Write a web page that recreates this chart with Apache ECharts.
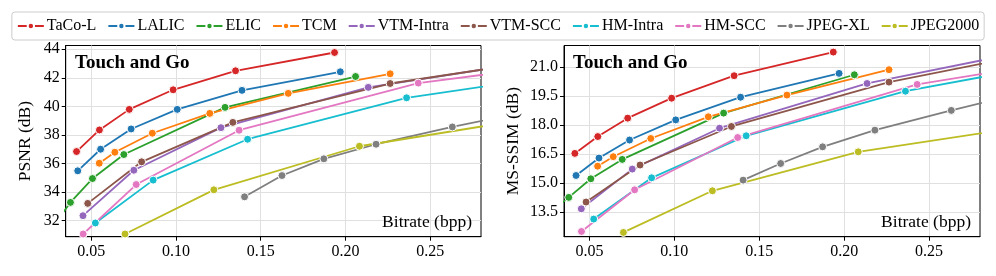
<!DOCTYPE html>
<html>
<head>
<meta charset="utf-8">
<script src="https://cdn.jsdelivr.net/npm/echarts@6/dist/echarts.min.js"></script>
<style>
html,body{margin:0;padding:0;background:#fff;}
#c{width:996px;height:276px;}
</style>
</head>
<body>
<div id="c"></div>
<script>
// ---- data (bpp, PSNR dB, MS-SSIM dB) ----
var names = ['TaCo-L','LALIC','ELIC','TCM','VTM-Intra','VTM-SCC','HM-Intra','HM-SCC','JPEG-XL','JPEG2000'];
var colors = ['#d62728','#1f77b4','#2ca02c','#ff7f0e','#9467bd','#8c564b','#17becf','#e377c2','#7f7f7f','#bcbd22'];

var tacoBpp   = [0.0414, 0.0549, 0.0725, 0.0984, 0.1352, 0.1936];
var tacoPsnr  = [36.84, 38.35, 39.79, 41.16, 42.49, 43.77];
var tacoMs    = [16.53, 17.40, 18.35, 19.38, 20.54, 21.76];

var lalicBpp  = [0.0421, 0.0556, 0.0736, 0.1008, 0.1390, 0.1970];
var lalicPsnr = [35.49, 37.00, 38.42, 39.79, 41.12, 42.42];
var lalicMs   = [15.39, 16.29, 17.22, 18.26, 19.43, 20.66];

var elicBpp   = [0.0300, 0.0378, 0.0508, 0.0693, 0.1290, 0.2060];
var elicPsnr  = [32.00, 33.28, 34.95, 36.63, 39.93, 42.09];
var elicMs    = [13.70, 14.26, 15.22, 16.22, 18.61, 20.59];

var tcmBpp    = [0.0548, 0.0640, 0.0861, 0.1200, 0.1663, 0.2264];
var tcmPsnr   = [36.02, 36.79, 38.12, 39.51, 40.91, 42.28];
var tcmMs     = [15.87, 16.36, 17.30, 18.42, 19.54, 20.85];

var vtmIBpp   = [0.0452, 0.0752, 0.1266, 0.2135, 0.3000];
var vtmIPsnr  = [32.35, 35.53, 38.51, 41.33, 42.93];
var vtmIMs    = [13.67, 15.72, 17.83, 20.14, 21.67];

var vtmSBpp   = [0.0480, 0.0798, 0.1336, 0.2264, 0.3000];
var vtmSPsnr  = [33.21, 36.12, 38.88, 41.60, 42.92];
var vtmSMs    = [14.02, 15.93, 17.92, 20.21, 21.49];

var hmIBpp    = [0.0525, 0.0866, 0.1423, 0.2361, 0.3000];
var hmIPsnr   = [31.84, 34.84, 37.70, 40.60, 41.70];
var hmIMs     = [13.14, 15.27, 17.44, 19.74, 20.78];

var hmSBpp    = [0.0453, 0.0766, 0.1373, 0.2430, 0.3000];
var hmSPsnr   = [31.07, 34.53, 38.33, 41.63, 42.50];
var hmSMs     = [12.50, 14.65, 17.35, 20.09, 20.91];

var jxlBpp    = [0.1405, 0.1626, 0.1873, 0.2181, 0.2631, 0.3000];
var jxlPsnr   = [33.67, 35.16, 36.33, 37.35, 38.56, 39.47];
var jxlMs     = [15.15, 16.01, 16.87, 17.73, 18.75, 19.55];

var j2kBpp    = [0.0700, 0.1224, 0.2083, 0.3000];
var j2kPsnr   = [31.07, 34.16, 37.21, 38.97];
var j2kMs     = [12.45, 14.60, 16.61, 17.83];

var xTicks     = [0.05, 0.10, 0.15, 0.20, 0.25];
var psnrTicks  = [32, 34, 36, 38, 40, 42, 44];
var msTicks    = [13.5, 15.0, 16.5, 18.0, 19.5, 21.0];

var bppList  = [tacoBpp, lalicBpp, elicBpp, tcmBpp, vtmIBpp, vtmSBpp, hmIBpp, hmSBpp, jxlBpp, j2kBpp];
var psnrList = [tacoPsnr, lalicPsnr, elicPsnr, tcmPsnr, vtmIPsnr, vtmSPsnr, hmIPsnr, hmSPsnr, jxlPsnr, j2kPsnr];
var msList   = [tacoMs, lalicMs, elicMs, tcmMs, vtmIMs, vtmSMs, hmIMs, hmSMs, jxlMs, j2kMs];

var FONT = '"Liberation Serif","DejaVu Serif",serif';

function pairs(xs, ys){ return xs.map(function(x,i){ return [x, ys[i]]; }); }

var series = [];
names.forEach(function(n, i){
  [0,1].forEach(function(g){
    series.push({
      name: n, type: 'line',
      xAxisIndex: g, yAxisIndex: g,
      data: pairs(bppList[i], g === 0 ? psnrList[i] : msList[i]),
      symbol: 'circle', symbolSize: 8,
      clip: true,
      lineStyle: { color: colors[i], width: 1.8 },
      itemStyle: { color: colors[i], borderColor: '#fff', borderWidth: 1 },
      emphasis: { disabled: true },
      animation: false
    });
  });
});

function xAxis(gi){
  return {
    type: 'value', gridIndex: gi, min: 0.0350, max: 0.2800,
    axisLine: { show: true, lineStyle: { color: '#000', width: 1 } },
    axisTick: { show: true, length: 4, inside: false, lineStyle: { color: '#000' }, customValues: xTicks },
    axisLabel: { customValues: xTicks, formatter: function(v){ return v.toFixed(2); },
                 fontFamily: FONT, fontSize: 16, color: '#000', margin: 7 },
    splitLine: { show: true, lineStyle: { color: '#e0e0e0', width: 1 } }
  };
}
function yAxis(gi, mn, mx, ticks, dec, name, gap){
  return {
    type: 'value', gridIndex: gi, min: mn, max: mx,
    name: name, nameLocation: 'middle', nameGap: gap,
    nameTextStyle: { fontFamily: FONT, fontSize: 17.5, color: '#000' },
    axisLine: { show: true, lineStyle: { color: '#000', width: 1 } },
    axisTick: { show: true, length: 4, lineStyle: { color: '#000' }, customValues: ticks },
    axisLabel: { customValues: ticks, formatter: function(v){ return v.toFixed(dec); },
                 fontFamily: FONT, fontSize: 16, color: '#000', margin: 6 },
    splitLine: { show: true, lineStyle: { color: '#e0e0e0', width: 1 } }
  };
}

var chart = echarts.init(document.getElementById('c'), null, { renderer: 'canvas' });
chart.setOption({
  animation: false,
  backgroundColor: '#fff',
  legend: {
    data: names, top: 12, left: 'center',
    itemWidth: 26, itemHeight: 8, itemGap: 11,
    padding: [6, 5], borderColor: '#cccccc', borderWidth: 1, borderRadius: 3,
    backgroundColor: '#fff',
    textStyle: { fontFamily: FONT, fontSize: 16, color: '#000', padding: [0,0,0,-2] },
    selectedMode: false
  },
  grid: [
    { left: 65.7, right: 515, top: 45.5, bottom: 39.3, show: true, borderColor: '#000', borderWidth: 1, backgroundColor: 'transparent' },
    { left: 564, right: 16, top: 45.5, bottom: 39.3, show: true, borderColor: '#000', borderWidth: 1, backgroundColor: 'transparent' }
  ],
  xAxis: [ xAxis(0), xAxis(1) ],
  yAxis: [
    yAxis(0, 30.88, 44.26, psnrTicks, 0, 'PSNR (dB)', 31),
    yAxis(1, 12.23, 22.10, msTicks, 1, 'MS-SSIM (dB)', 42)
  ],
  graphic: [
    { type: 'text', left: 75, top: 54, style: { text: 'Touch and Go', font: 'bold 19px ' + FONT, fill: '#000' }, z: 100 },
    { type: 'text', left: 573, top: 54, style: { text: 'Touch and Go', font: 'bold 19px ' + FONT, fill: '#000' }, z: 100 },
    { type: 'text', right: 996 - 472, top: 213, style: { text: 'Bitrate (bpp)', font: '17.5px ' + FONT, fill: '#000' }, z: 100 },
    { type: 'text', right: 996 - 971, top: 213, style: { text: 'Bitrate (bpp)', font: '17.5px ' + FONT, fill: '#000' }, z: 100 }
  ],
  series: series
});
</script>
</body>
</html>
